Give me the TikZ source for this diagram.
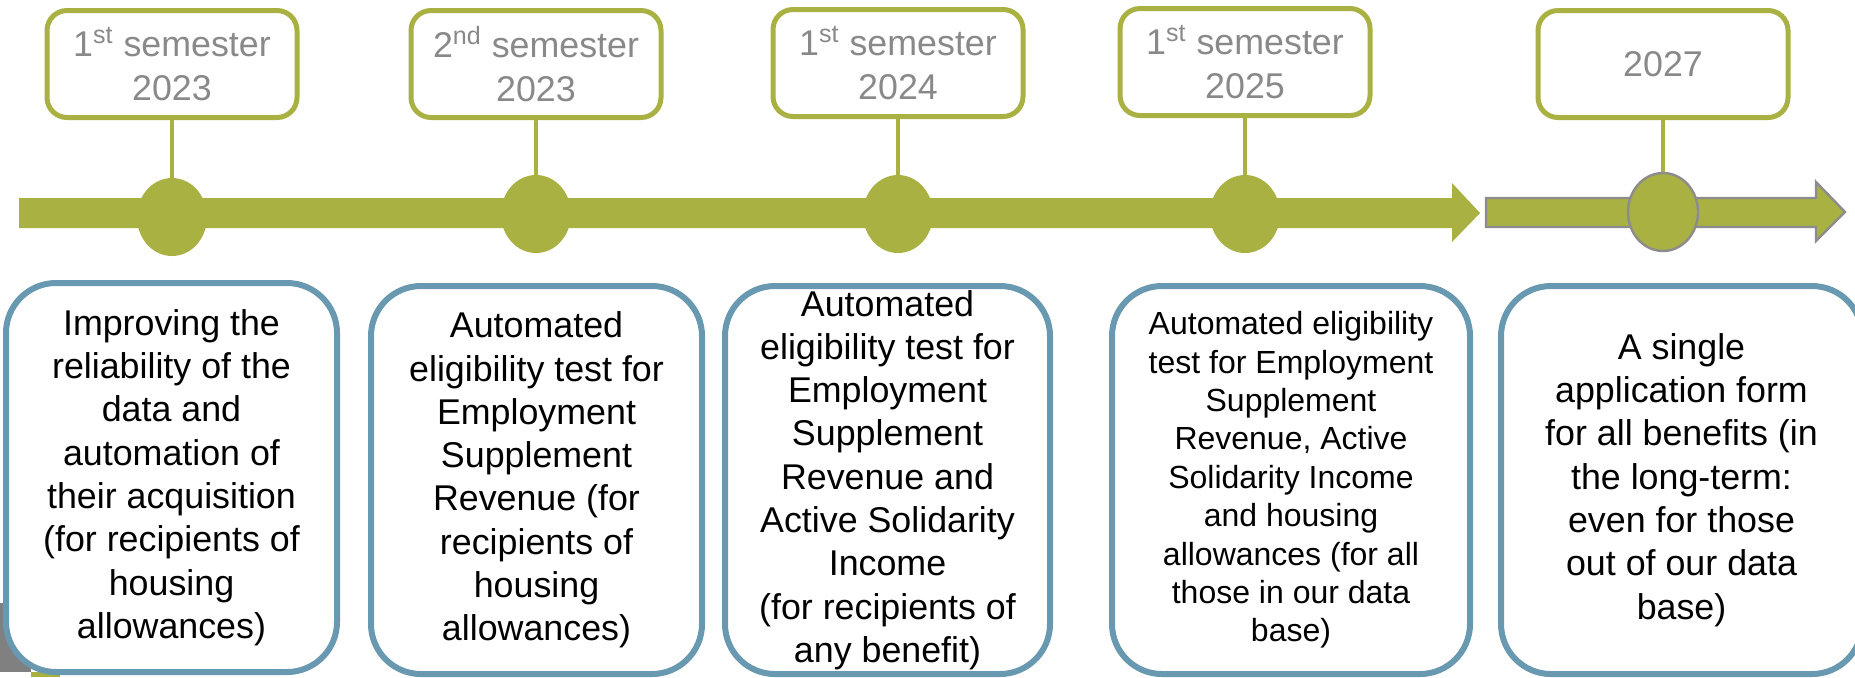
\documentclass[tikz,border=0pt]{standalone}
\usepackage{fontspec}
\setmainfont{Liberation Sans}
\usepackage{tikz}
\usetikzlibrary{shapes.geometric}
\definecolor{lineolive}{HTML}{A8B142}
\definecolor{boxblue}{HTML}{6899B0}
\definecolor{labelgrey}{HTML}{898989}
\definecolor{rimgrey}{HTML}{8C8C8C}
\definecolor{patchgrey}{HTML}{808080}

\begin{document}
\begin{tikzpicture}[x=0.5pt, y=-0.5pt,
    datebox/.style={draw=lineolive, line width=2.5pt, rounded corners=10pt, fill=white,
        minimum width=125pt, minimum height=53.5pt, inner sep=0pt, align=center,
        text=labelgrey, font=\fontsize{17.9pt}{22pt}\selectfont},
    milestone/.style={ellipse, fill=lineolive, minimum width=35pt, minimum height=39pt, inner sep=0pt},
    stemline/.style={draw=lineolive, line width=2.3pt},
    taskbox/.style={draw=boxblue, line width=3pt, rounded corners=25pt, fill=white,
        minimum height=194pt, inner sep=0pt, align=center,
        font=\fontsize{17.9pt}{21.65pt}\selectfont,
        execute at begin node={\rule{0pt}{1.1em}}}]
    \useasboundingbox (0,0) rectangle (1855,677);

    % bits of the slide behind the first box
    \fill [patchgrey] (0,603) rectangle (31,672);
    \fill [lineolive] (31,672) rectangle (60,677);

    % the time line
    \fill [lineolive] (19,198) -- (1452,198) -- (1452,183) -- (1480,213) -- (1452,242) -- (1452,228) -- (19,228) -- cycle;
    \filldraw [fill=lineolive, draw=rimgrey, line width=1.2pt] (1486,198) -- (1816,198) -- (1816,182) -- (1845,212) -- (1816,241) -- (1816,227) -- (1486,227) -- cycle;

    \node [datebox] (date1) at (172,64) {1\textsuperscript{st} semester\\2023};
    \node [datebox] (date2) at (536,64) {2\textsuperscript{nd} semester\\2023};
    \node [datebox] (date3) at (898,63) {1\textsuperscript{st} semester\\2024};
    \node [datebox] (date4) at (1245,62) {1\textsuperscript{st} semester\\2025};
    \node [datebox] (date5) at (1663,64) {2027};

    \node [milestone] (dot1) at (172,217) {};
    \node [milestone] (dot2) at (536,214) {};
    \node [milestone] (dot3) at (898,214) {};
    \node [milestone] (dot4) at (1245,214) {};
    \node [milestone, draw=rimgrey, line width=1.2pt] (dot5) at (1663,212) {};

    \draw [stemline] (date1.south) -- (dot1.north);
    \draw [stemline] (date2.south) -- (dot2.north);
    \draw [stemline] (date3.south) -- (dot3.north);
    \draw [stemline] (date4.south) -- (dot4.north);
    \draw [stemline] (date5.south) -- (dot5.north);

    \node [taskbox, minimum width=165.5pt, minimum height=194.5pt] (task1) at (171.5,477.5)
        {Improving the\\reliability of the\\data and\\automation of\\their acquisition\\(for recipients of\\housing\\allowances)};
    \node [taskbox, minimum width=165.5pt] (task2) at (536.5,480)
        {Automated\\eligibility test for\\Employment\\Supplement\\Revenue (for\\recipients of\\housing\\allowances)};
    \node [taskbox, minimum width=162.5pt] (task3) at (887.5,480)
        {Automated\\eligibility test for\\Employment\\Supplement\\Revenue and\\Active Solidarity\\Income\\(for recipients of\\any benefit)};
    \node [taskbox, minimum width=179pt, font=\fontsize{16pt}{19.2pt}\selectfont] (task4) at (1291,480)
        {Automated eligibility\\test for Employment\\Supplement\\Revenue, Active\\Solidarity Income\\and housing\\allowances (for all\\those in our data\\base)};
    \node [taskbox, minimum width=180.5pt] (task5) at (1681.5,480)
        {A single\\application form\\for all benefits (in\\the long-term:\\even for those\\out of our data\\base)};
\end{tikzpicture}
\end{document}
